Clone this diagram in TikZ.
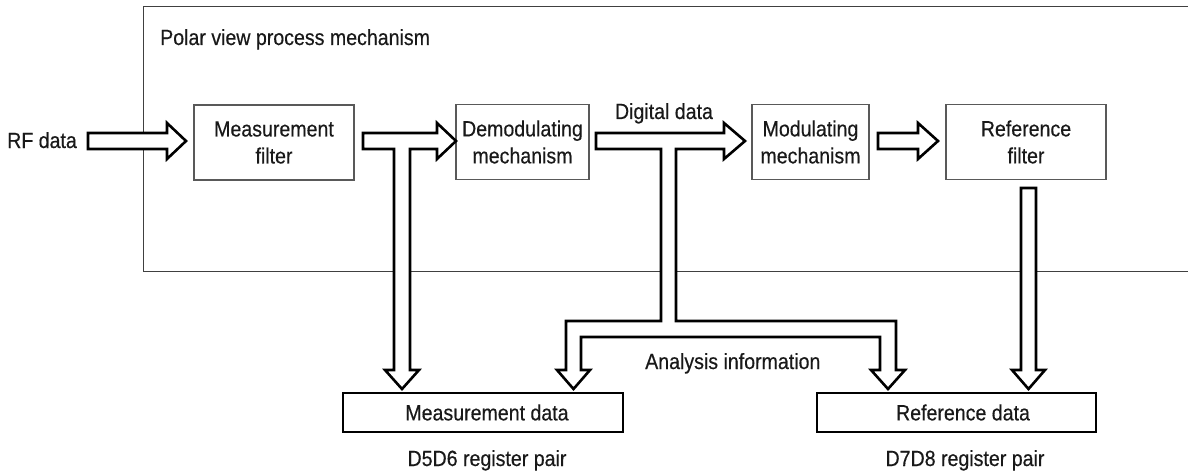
\documentclass[tikz,border=0pt]{standalone}
\usepackage{fontspec}
\setmainfont{Liberation Sans}[FakeStretch=0.89,FakeBold=0.4]
\begin{document}
\begin{tikzpicture}[x=1pt,y=-1pt,
  every node/.style={font=\fontsize{22}{27}\selectfont, text=black!90, inner sep=0pt},
  blk/.style={draw=black!65, line width=1.2pt, minimum height=75pt, align=center},
  reg/.style={draw=black, line width=2.6pt, minimum height=39pt},
  barrow/.style={draw=black, line width=2.6pt, fill=white, line join=miter},
  frame/.style={draw=black!75, line width=1pt}]
\useasboundingbox (0,0) rectangle (1188,476);
% frame
\draw[frame] (1188,7) -- (143,7) -- (143,271) -- (1188,271);
\node[anchor=base west] (title) at (160,45) {Polar view process mechanism};
% blocks
\node[blk, minimum width=160pt] (mf) at (274,142.5) {Measurement\\filter};
\node[blk, minimum width=133pt] (demod) at (522.5,142) {Demodulating\\mechanism};
\node[blk, minimum width=117pt] (mod) at (810.5,142) {Modulating\\mechanism};
\node[blk, minimum width=160pt] (rf) at (1026,142) {Reference\\filter};
\node[reg, minimum width=280pt] (md) at (483,412.5) {\hspace*{8pt}Measurement data};
\node[reg, minimum width=279pt] (rd) at (956.5,412.5) {\hspace*{13pt}Reference data};
% labels
\node[anchor=base west] (rfdata) at (7,148) {RF data};
\node[anchor=base] (digital) at (664,119) {Digital data};
\node[anchor=base west] (analysis) at (645,369) {Analysis information};
\node[anchor=base] (d56) at (487,466) {D5D6 register pair};
\node[anchor=base] (d78) at (965,466) {D7D8 register pair};
% input arrow
\draw[barrow] (88,133) -- (167,133) -- (167,123) -- (186,141) -- (167,159) -- (167,149) -- (88,149) -- cycle;
% measurement filter -> demod, branch down to measurement data
\draw[barrow] (363,133) -- (437,133) -- (437,123) -- (456,141) -- (437,159) -- (437,149)
  -- (410,149) -- (410,370) -- (419,370) -- (402,389) -- (385,370) -- (394,370) -- (394,149)
  -- (363,149) -- cycle;
% digital data arrow with analysis branches
\draw[barrow] (596,133) -- (724,133) -- (724,123) -- (745,141) -- (724,159) -- (724,149)
  -- (676,149) -- (676,321) -- (896,321) -- (896,370) -- (905,370) -- (888,389) -- (871,370)
  -- (880,370) -- (880,337) -- (581,337) -- (581,370) -- (590,370) -- (573.5,389) -- (557,370)
  -- (566,370) -- (566,321) -- (661,321) -- (661,149) -- (596,149) -- cycle;
% mod -> ref filter
\draw[barrow] (878,133) -- (918,133) -- (918,123) -- (938,141) -- (918,159) -- (918,149) -- (878,149) -- cycle;
% ref filter -> reference data
\draw[barrow] (1021,188) -- (1036,188) -- (1036,370) -- (1045,370) -- (1028.5,389) -- (1012,370) -- (1021,370) -- cycle;
\end{tikzpicture}
\end{document}
